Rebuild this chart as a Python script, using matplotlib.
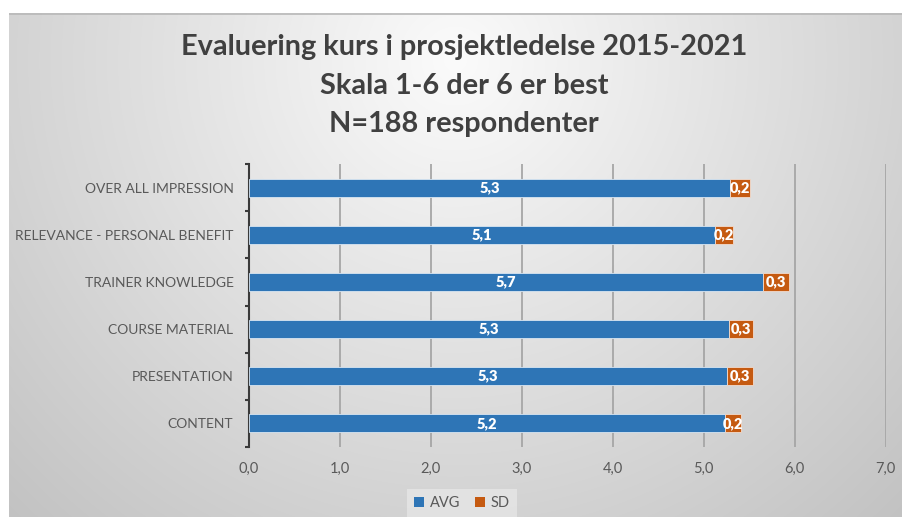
import numpy as np
import matplotlib as mpl
mpl.use('Agg')
import matplotlib.pyplot as plt
from matplotlib.patches import Patch

categories = ['CONTENT', 'PRESENTATION', 'COURSE MATERIAL', 'TRAINER KNOWLEDGE',
              'RELEVANCE - PERSONAL BENEFIT', 'OVER ALL IMPRESSION']
avg = [5.23, 5.26, 5.28, 5.655, 5.12, 5.29]
sd = [0.18, 0.285, 0.26, 0.285, 0.2, 0.22]
xticks = [0, 1, 2, 3, 4, 5, 6, 7]
title = 'Evaluering kurs i prosjektledelse 2015-2021\nSkala 1-6 der 6 er best\nN=188 respondenter'

blue = '#2E75B6'
orange = '#C55A11'
txt = '#595959'

plt.rcParams['font.family'] = ['Lato', 'DejaVu Sans']

W, H = 903, 517
fig = plt.figure(figsize=(W / 100, H / 100), dpi=100)
fig.patch.set_facecolor('white')

# gray radial gradient panel behind the chart
bg = fig.add_axes([9 / W, 0, 1 - 9 / W, 1 - 13 / H])
yy, xx = np.mgrid[0:504, 0:894]
d = np.sqrt((xx - 446) ** 2 + (yy - 47) ** 2) / 641
shade = np.clip(251 - 57 * d, 190, 255) / 255
bg.imshow(np.dstack([shade, shade, shade]), aspect='auto', extent=(0, 1, 0, 1))
bg.plot([0, 1], [0.998, 0.998], color='#b8b8b8', lw=1.2)
bg.set_xlim(0, 1)
bg.set_ylim(0, 1)
bg.axis('off')

ax = fig.add_axes([248.7 / W, 1 - 447 / H, 637 / W, 283 / H])
ax.patch.set_alpha(0)
y = np.arange(len(categories))
b1 = ax.barh(y, avg, height=0.38, color=blue, edgecolor='#d9e6f2', linewidth=0.6, zorder=3)
b2 = ax.barh(y, sd, left=avg, height=0.38, color=orange, edgecolor='#f2dccf', linewidth=0.6, zorder=3)

for i in range(len(categories)):
    ax.text(avg[i] / 2, y[i], f'{avg[i]:.1f}'.replace('.', ','), ha='center', va='center',
            color='white', fontsize=10.5, fontweight='heavy', zorder=4)
    ax.text(avg[i] + sd[i] / 2, y[i], f'{sd[i]:.1f}'.replace('.', ','), ha='center', va='center',
            color='white', fontsize=10.5, fontweight='heavy', zorder=4)

ax.set_xlim(0, 7)
ax.set_ylim(-0.5, len(categories) - 0.5)
ax.set_xticks(xticks)
ax.set_xticklabels([f'{v:.1f}'.replace('.', ',') for v in xticks], color=txt, fontsize=10.5)
ax.tick_params(axis='x', length=0, pad=11)
for v in xticks[1:]:
    ax.axvline(v, color='#a6a6a6', lw=1.3, zorder=1)

ax.set_yticks(np.arange(len(categories) + 1) - 0.5)
ax.set_yticklabels([])
ax.set_yticks(y, minor=True)
ax.set_yticklabels(categories, minor=True, color=txt, fontsize=10)
ax.tick_params(axis='y', which='major', length=3, width=1.5, color='#3a3a3a', direction='out')
ax.tick_params(axis='y', which='minor', length=0, pad=11)

for s in ['top', 'right', 'bottom']:
    ax.spines[s].set_visible(False)
ax.spines['left'].set_color('#3a3a3a')
ax.spines['left'].set_linewidth(1.5)

fig.text(464 / W, 1 - 85.5 / H, title, ha='center', va='center', fontsize=20.8,
         fontweight='bold', color='#404040', linespacing=1.58)

handles = [Patch(facecolor=blue), Patch(facecolor=orange)]
leg = fig.legend(handles, ['AVG', 'SD'], loc='center', bbox_to_anchor=(462 / W, 1 - 503 / H),
                 ncol=2, fontsize=10.5, frameon=True, handlelength=0.7, handleheight=0.7,
                 handletextpad=0.4, columnspacing=1.0, borderpad=0.5, fancybox=False)
leg.get_frame().set_facecolor('#e6e6e6')
leg.get_frame().set_edgecolor('none')
for t in leg.get_texts():
    t.set_color(txt)

fig.savefig('out.png', dpi=100)
